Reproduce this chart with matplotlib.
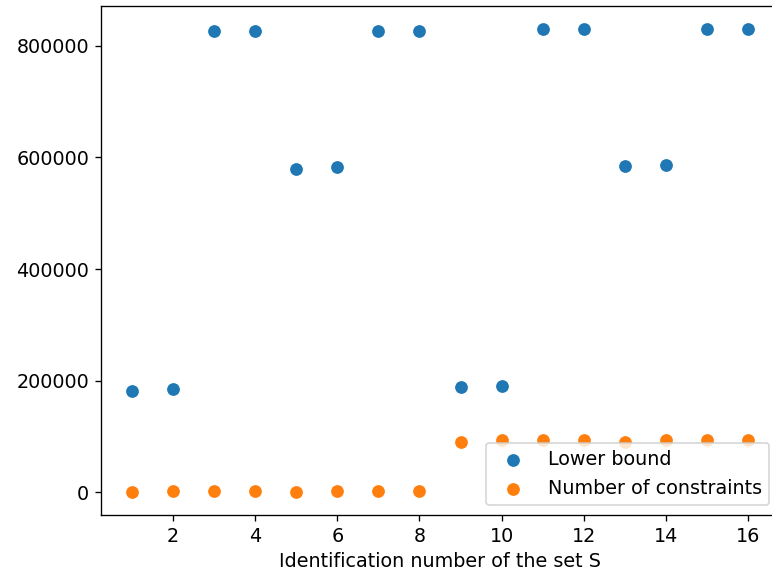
import numpy as np
import matplotlib.pyplot as plt

set_ids = np.arange(1, 17)
lower_bound = [182000, 185000, 827000, 827000, 580000, 582000, 827000, 827000,
               189000, 190000, 830000, 830000, 584000, 586000, 830000, 830000]
n_constraints = [500, 2500, 2500, 2500, 500, 2000, 2000, 2000,
                 90500, 93000, 93000, 93000, 90500, 93000, 93000, 93000]

plt.rcParams["font.size"] = 11.5

fig = plt.figure(figsize=(772 / 120, 579 / 120), dpi=120)
ax = fig.add_axes([101 / 772, 1 - 515 / 579, 678 / 772, 509 / 579])

ax.scatter(set_ids, lower_bound, s=70, color="#1f77b4", edgecolor="white",
           linewidth=0.7, label="Lower bound")
ax.scatter(set_ids, n_constraints, s=70, color="#ff7f0e", edgecolor="white",
           linewidth=0.7, label="Number of constraints")

ax.set_xlabel("Identification number of the set S")
ax.legend(loc="lower right")

fig.savefig("out.png", dpi=120)
